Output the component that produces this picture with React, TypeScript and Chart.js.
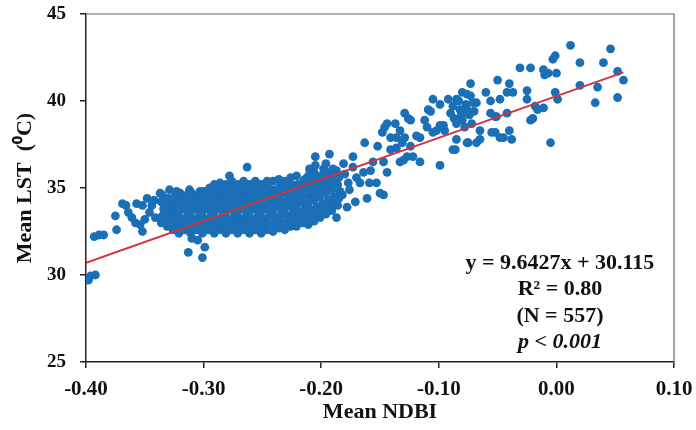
import React, { useEffect, useRef } from "react";
import { Chart, registerables } from "chart.js";

Chart.register(...registerables);

// ---- Data (Mean NDBI, Mean LST) ----
const leftTail: [number, number][] = [
  [-0.399, 29.8], [-0.396, 29.95], [-0.392, 30.0], [-0.398, 29.7],
  [-0.393, 32.2], [-0.389, 32.3], [-0.385, 32.3],
  [-0.374, 32.6], [-0.375, 33.4], [-0.369, 34.1], [-0.366, 34.0], [-0.364, 33.6],
  [-0.358, 33.0], [-0.352, 32.5], [-0.357, 34.1], [-0.352, 34.0], [-0.350, 33.2],
  [-0.346, 33.6], [-0.344, 34.0], [-0.341, 33.3], [-0.337, 34.7], [-0.342, 34.3],
  [-0.348, 34.4], [-0.354, 32.9], [-0.361, 33.3],
];

const lowOutliers: [number, number][] = [
  [-0.313, 31.3], [-0.301, 31.0], [-0.299, 31.6], [-0.305, 32.0], [-0.310, 32.1],
];

const denseCore: [number, number][] = [
  [-0.336, 33.0], [-0.335, 33.4], [-0.334, 33.8], [-0.336, 34.2], [-0.335, 34.6],
  [-0.331, 32.8], [-0.330, 33.2], [-0.329, 33.6], [-0.331, 34.0], [-0.330, 34.4], [-0.329, 34.9],
  [-0.326, 32.6], [-0.325, 33.0], [-0.324, 33.4], [-0.326, 33.8], [-0.325, 34.2], [-0.324, 34.6], [-0.323, 34.8],
  [-0.321, 32.4], [-0.320, 32.8], [-0.319, 33.2], [-0.321, 33.6], [-0.320, 34.0], [-0.319, 34.4], [-0.320, 34.7],
  [-0.316, 32.6], [-0.315, 33.0], [-0.314, 33.4], [-0.316, 33.8], [-0.315, 34.2], [-0.314, 34.6], [-0.312, 34.9],
  [-0.311, 32.4], [-0.310, 32.8], [-0.309, 33.2], [-0.311, 33.6], [-0.310, 34.0], [-0.309, 34.4], [-0.310, 34.7],
  [-0.306, 32.6], [-0.305, 33.0], [-0.304, 33.4], [-0.306, 33.8], [-0.305, 34.2], [-0.304, 34.6], [-0.303, 34.8],
  [-0.301, 32.4], [-0.300, 32.8], [-0.299, 33.2], [-0.301, 33.6], [-0.300, 34.0], [-0.299, 34.4], [-0.300, 34.8],
  [-0.296, 32.6], [-0.295, 33.0], [-0.294, 33.4], [-0.296, 33.8], [-0.295, 34.2], [-0.294, 34.6], [-0.295, 35.0],
  [-0.291, 32.4], [-0.290, 32.8], [-0.289, 33.2], [-0.291, 33.6], [-0.290, 34.0], [-0.289, 34.4], [-0.290, 34.8], [-0.291, 35.2],
  [-0.286, 32.6], [-0.285, 33.0], [-0.284, 33.4], [-0.286, 33.8], [-0.285, 34.2], [-0.284, 34.6], [-0.285, 35.0], [-0.286, 35.3],
  [-0.281, 32.4], [-0.280, 32.8], [-0.279, 33.2], [-0.281, 33.6], [-0.280, 34.0], [-0.279, 34.4], [-0.280, 34.8], [-0.281, 35.2],
  [-0.276, 32.6], [-0.275, 33.0], [-0.274, 33.4], [-0.276, 33.8], [-0.275, 34.2], [-0.274, 34.6], [-0.275, 35.0], [-0.276, 35.4], [-0.278, 35.7],
  [-0.271, 32.4], [-0.270, 32.8], [-0.269, 33.2], [-0.271, 33.6], [-0.270, 34.0], [-0.269, 34.4], [-0.270, 34.8], [-0.271, 35.2],
  [-0.266, 32.6], [-0.265, 33.0], [-0.264, 33.4], [-0.266, 33.8], [-0.265, 34.2], [-0.264, 34.6], [-0.265, 35.0], [-0.266, 35.4],
  [-0.261, 32.4], [-0.260, 32.8], [-0.259, 33.2], [-0.261, 33.6], [-0.260, 34.0], [-0.259, 34.4], [-0.260, 34.8], [-0.261, 35.2], [-0.263, 36.2],
  [-0.256, 32.6], [-0.255, 33.0], [-0.254, 33.4], [-0.256, 33.8], [-0.255, 34.2], [-0.254, 34.6], [-0.255, 35.0], [-0.256, 35.4],
  [-0.251, 32.4], [-0.250, 32.8], [-0.249, 33.2], [-0.251, 33.6], [-0.250, 34.0], [-0.249, 34.4], [-0.250, 34.8], [-0.251, 35.2],
  [-0.246, 32.6], [-0.245, 33.0], [-0.244, 33.4], [-0.246, 33.8], [-0.245, 34.2], [-0.244, 34.6], [-0.245, 35.0], [-0.246, 35.4],
  [-0.241, 32.5], [-0.240, 32.9], [-0.239, 33.3], [-0.241, 33.7], [-0.240, 34.1], [-0.239, 34.5], [-0.240, 34.9], [-0.241, 35.4],
  [-0.236, 32.7], [-0.235, 33.1], [-0.234, 33.5], [-0.236, 33.9], [-0.235, 34.3], [-0.234, 34.7], [-0.235, 35.1], [-0.236, 35.5],
  [-0.231, 32.6], [-0.230, 33.0], [-0.229, 33.4], [-0.231, 33.8], [-0.230, 34.2], [-0.229, 34.6], [-0.230, 35.0], [-0.231, 35.4],
  [-0.226, 32.8], [-0.225, 33.2], [-0.224, 33.6], [-0.226, 34.0], [-0.225, 34.4], [-0.224, 34.8], [-0.225, 35.2], [-0.226, 35.6],
  [-0.221, 32.8], [-0.220, 33.2], [-0.219, 33.6], [-0.221, 34.0], [-0.220, 34.4], [-0.219, 34.8], [-0.220, 35.2], [-0.221, 35.7],
  [-0.216, 33.0], [-0.215, 33.4], [-0.214, 33.8], [-0.216, 34.2], [-0.215, 34.6], [-0.214, 35.0], [-0.215, 35.4], [-0.214, 35.5],
  [-0.211, 32.9], [-0.210, 33.3], [-0.209, 33.7], [-0.211, 34.1], [-0.210, 34.5], [-0.209, 34.9], [-0.210, 35.3], [-0.211, 35.7], [-0.210, 36.1],
  [-0.206, 33.1], [-0.205, 33.5], [-0.204, 33.9], [-0.206, 34.3], [-0.205, 34.7], [-0.204, 35.1], [-0.205, 35.5], [-0.206, 35.9], [-0.205, 36.3], [-0.205, 36.8],
  [-0.201, 33.3], [-0.200, 33.7], [-0.199, 34.1], [-0.201, 34.5], [-0.200, 34.9], [-0.199, 35.3], [-0.200, 35.7], [-0.198, 36.1],
  [-0.196, 33.5], [-0.195, 33.9], [-0.194, 34.3], [-0.196, 34.7], [-0.195, 35.1], [-0.194, 35.5], [-0.195, 35.9], [-0.196, 36.4], [-0.193, 36.95],
  [-0.191, 33.7], [-0.190, 34.1], [-0.189, 34.5], [-0.191, 34.9], [-0.190, 35.3], [-0.189, 35.7], [-0.190, 36.1],
  [-0.186, 34.0], [-0.185, 34.4], [-0.184, 34.8], [-0.186, 35.2], [-0.185, 35.6], [-0.187, 36.0], [-0.187, 33.3],
];

const midBand: [number, number][] = [
  [-0.181, 36.4], [-0.180, 35.8], [-0.177, 35.3], [-0.176, 34.9], [-0.182, 34.6], [-0.178, 33.9],
  [-0.173, 36.8], [-0.173, 36.2], [-0.171, 34.2], [-0.170, 35.6], [-0.167, 35.3], [-0.164, 35.9],
  [-0.163, 37.6], [-0.161, 34.4], [-0.159, 35.3], [-0.158, 36.0], [-0.156, 36.5], [-0.153, 35.3],
  [-0.152, 37.4], [-0.150, 34.7], [-0.147, 34.6], [-0.148, 38.2], [-0.147, 36.5], [-0.144, 35.9],
  [-0.146, 38.5], [-0.144, 38.7], [-0.141, 37.9], [-0.141, 37.2], [-0.137, 38.7], [-0.136, 37.9],
  [-0.136, 37.3], [-0.133, 38.3], [-0.133, 36.5], [-0.131, 37.6], [-0.130, 36.6], [-0.129, 39.3],
  [-0.129, 37.9], [-0.127, 36.8], [-0.126, 39.0], [-0.124, 38.9], [-0.124, 37.4], [-0.122, 36.8],
  [-0.119, 38.0], [-0.116, 37.9], [-0.116, 36.5], [-0.112, 38.9], [-0.110, 38.5], [-0.109, 39.5],
  [-0.107, 39.4], [-0.105, 38.2], [-0.105, 40.1], [-0.102, 38.3],
];

const upperBand: [number, number][] = [
  [-0.099, 39.8], [-0.099, 38.6], [-0.099, 36.3], [-0.096, 38.6], [-0.095, 38.3], [-0.092, 40.1],
  [-0.090, 39.3], [-0.088, 39.7], [-0.088, 37.2], [-0.087, 39.0], [-0.086, 37.2], [-0.085, 40.1],
  [-0.085, 38.7], [-0.085, 37.8], [-0.083, 40.0], [-0.082, 39.5], [-0.081, 39.2], [-0.080, 40.5],
  [-0.080, 38.9], [-0.078, 38.5], [-0.077, 39.8], [-0.076, 40.4], [-0.076, 39.5], [-0.076, 37.6],
  [-0.075, 37.6], [-0.074, 39.2], [-0.073, 41.0], [-0.073, 40.3], [-0.072, 38.7], [-0.071, 39.9],
  [-0.070, 39.4], [-0.068, 39.9], [-0.068, 37.6], [-0.065, 38.3], [-0.065, 37.8], [-0.060, 40.5],
  [-0.056, 40.0], [-0.056, 39.3], [-0.055, 38.2], [-0.052, 39.1], [-0.052, 38.2], [-0.051, 39.1],
  [-0.050, 41.2], [-0.048, 40.1], [-0.048, 37.9], [-0.045, 37.9], [-0.042, 40.5], [-0.042, 39.3],
  [-0.040, 41.0], [-0.040, 38.3], [-0.038, 37.8], [-0.037, 40.5], [-0.031, 41.9], [-0.025, 40.6],
  [-0.025, 40.1], [-0.022, 41.9], [-0.022, 38.9], [-0.020, 39.0], [-0.018, 39.7], [-0.016, 39.5],
];

const topRight: [number, number][] = [
  [-0.011, 41.8], [-0.010, 41.5], [-0.011, 39.6], [-0.007, 41.6], [-0.005, 37.6], [-0.003, 42.4],
  [-0.001, 42.6], [-0.001, 40.5], [0.000, 41.6], [0.001, 40.1], [0.012, 43.2], [0.020, 42.2],
  [0.020, 40.9], [0.033, 39.9], [0.035, 40.8], [0.040, 42.2], [0.046, 43.0], [0.052, 41.7],
  [0.052, 40.2], [0.057, 41.2],
];

// Trend line as drawn in the figure
const fitX = [-0.4, 0.057];
const fitY = [30.7, 41.65];

// Axis ticks
const xTickValues = [-0.4, -0.3, -0.2, -0.1, 0.0, 0.1];
const yTickValues = [25, 30, 35, 40, 45];

// Annotation text lines with anchor values (x, y in data units)
const annotLines = ["y = 9.6427x + 30.115", "R² = 0.80", "(N = 557)", "p < 0.001"];
const annotX = 0.003;
const annotY = [30.7, 29.2, 27.6, 26.15];

const SERIF = "'Liberation Serif', 'Times New Roman', serif";

export default function App() {
  const ref = useRef<HTMLCanvasElement | null>(null);

  useEffect(() => {
    if (!ref.current) return;
    const points = [...leftTail, ...lowOutliers, ...denseCore, ...midBand, ...upperBand, ...topRight].map(
      ([x, y]) => ({ x, y })
    );
    const line = fitX.map((x, i) => ({ x, y: fitY[i] }));

    const framePlugin = {
      id: "frameAndText",
      afterDatasetsDraw(chart: any) {
        const { ctx, chartArea, scales } = chart;
        ctx.save();
        // top and right frame
        ctx.strokeStyle = "#666";
        ctx.lineWidth = 1.2;
        ctx.beginPath();
        ctx.moveTo(chartArea.left, chartArea.top);
        ctx.lineTo(chartArea.right, chartArea.top);
        ctx.lineTo(chartArea.right, chartArea.bottom);
        ctx.stroke();
        // annotation
        ctx.fillStyle = "#111";
        ctx.textAlign = "center";
        ctx.textBaseline = "middle";
        annotLines.forEach((t, i) => {
          ctx.font = (i === 3 ? "italic bold 22px " : "bold 22px ") + SERIF;
          ctx.fillText(t, scales.x.getPixelForValue(annotX), scales.y.getPixelForValue(annotY[i]));
        });
        ctx.restore();
      },
    };

    const chart = new Chart(ref.current, {
      type: "scatter",
      data: {
        datasets: [
          {
            type: "line",
            data: line,
            borderColor: "#d2333d",
            borderWidth: 1.8,
            pointRadius: 0,
            fill: false,
            order: 0,
          } as any,
          {
            data: points,
            backgroundColor: "#1a6fb6",
            borderWidth: 0,
            pointRadius: 4.4,
            order: 1,
          },
        ],
      },
      options: {
        responsive: false,
        animation: false,
        layout: { padding: { top: 14, right: 22, bottom: 0, left: 0 } },
        plugins: { legend: { display: false }, tooltip: { enabled: false } },
        scales: {
          x: {
            type: "linear",
            min: -0.4,
            max: 0.1,
            afterFit: (s: any) => {
              s.height = 68;
              s.paddingLeft = 0;
              s.paddingRight = 0;
            },
            afterBuildTicks: (s: any) => { s.ticks = xTickValues.map((v) => ({ value: v })); },
            ticks: {
              padding: 9,
              color: "#111",
              font: { family: SERIF, size: 21, weight: "bold" },
              callback: (v: any) => (Math.abs(Number(v)) < 1e-9 ? "0.00" : Number(v).toFixed(2)),
            },
            grid: { drawOnChartArea: false, drawTicks: true, tickLength: 6, color: "#222", lineWidth: 1.5 },
            border: { display: true, color: "#222", width: 1.5 },
            title: {
              display: true,
              text: "Mean NDBI",
              color: "#111",
              font: { family: SERIF, size: 22, weight: "bold" },
              padding: { top: 0, bottom: 4 },
            },
          },
          y: {
            type: "linear",
            min: 25,
            max: 45,
            afterFit: (s: any) => {
              s.width = 86;
              s.paddingTop = 0;
              s.paddingBottom = 0;
            },
            afterBuildTicks: (s: any) => { s.ticks = yTickValues.map((v) => ({ value: v })); },
            ticks: {
              padding: 14,
              color: "#111",
              font: { family: SERIF, size: 19, weight: "bold" },
            },
            grid: { drawOnChartArea: false, drawTicks: true, tickLength: 6, color: "#222", lineWidth: 1.5 },
            border: { display: true, color: "#222", width: 1.5 },
            title: {
              display: true,
              text: "Mean LST  (⁰C)",
              color: "#111",
              font: { family: SERIF, size: 22, weight: "bold" },
              padding: { top: 12, bottom: 0 },
            },
          },
        },
      },
      plugins: [framePlugin],
    });
    return () => chart.destroy();
  }, []);

  return (
    <div style={{ position: "fixed", left: 0, top: 0, width: 696, height: 430, background: "#fff" }}>
      <canvas ref={ref} width={696} height={430} />
    </div>
  );
}
